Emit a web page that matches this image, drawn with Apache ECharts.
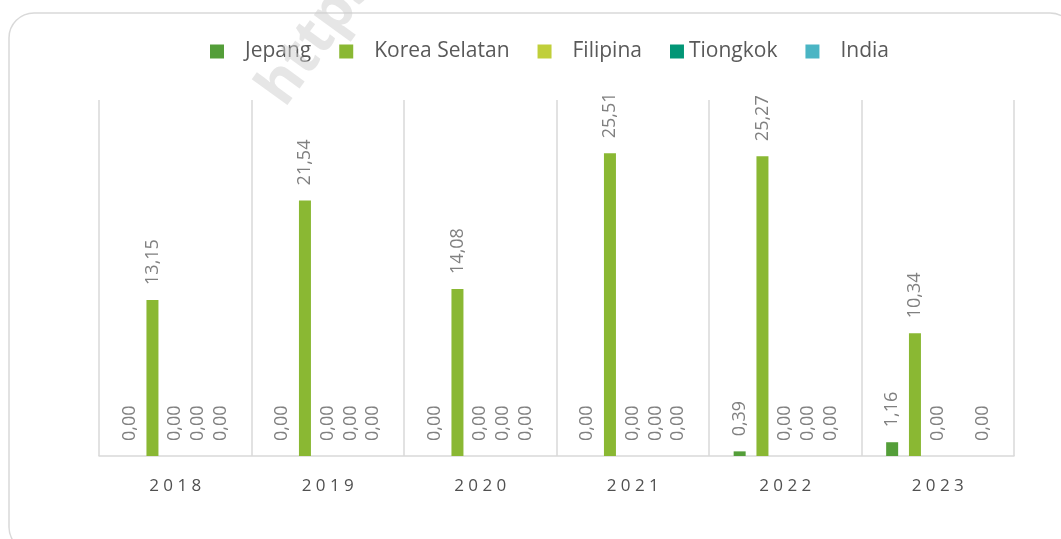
<!DOCTYPE html>
<html>
<head>
<meta charset="utf-8">
<script src="https://cdn.jsdelivr.net/npm/echarts@6/dist/echarts.min.js"></script>
<style>
  html, body { margin: 0; padding: 0; background: #fff; }
  #chart { width: 1061px; height: 539px; }
</style>
</head>
<body>
<div id="chart"></div>
<script>
// data
const years = ['2018', '2019', '2020', '2021', '2022', '2023'];
const jepang = [0, 0, 0, 0, 0.39, 1.16];
const koreaSelatan = [13.15, 21.54, 14.08, 25.51, 25.27, 10.34];
const filipina = [0, 0, 0, 0, 0, 0];
const tiongkok = [0, 0, 0, 0, 0, null];
const india = [0, 0, 0, 0, 0, 0];

const seriesNames = ['Jepang', 'Korea Selatan', 'Filipina', 'Tiongkok', 'India'];
const seriesData = [jepang, koreaSelatan, filipina, tiongkok, india];
const colors = ['#549E39', '#8AB833', '#C0CF3A', '#029676', '#4AB5C4'];

const font = '"Open Sans", "Noto Sans", sans-serif';

const chart = echarts.init(document.getElementById('chart'));

chart.setOption({
  animation: false,
  color: colors,
  graphic: [
    {
      type: 'rect',
      z: -10,
      shape: { x: 9, y: 13, width: 1066, height: 539, r: 25 },
      style: { fill: '#fff', stroke: '#d9d9d9', lineWidth: 1.5 },
    },
    {
      // faint watermark
      type: 'text',
      z: 100,
      x: 248,
      y: 82,
      rotation: Math.PI * 0.3,
      style: {
        text: 'https://',
        fill: 'rgba(205,205,205,0.5)',
        font: 'bold 58px ' + font,
      },
    },
  ],
  legend: {
    top: 36,
    left: 205,
    icon: 'rect',
    itemWidth: 14,
    itemHeight: 14,
    itemGap: 28,
    textStyle: { color: '#595959', fontSize: 21, fontFamily: font },
    data: seriesNames.map((name) => ({
      name,
      textStyle: { padding: [0, 0, 0, name === 'Tiongkok' ? 0 : 16] },
    })),
  },
  grid: {
    top: 100,
    left: 99,
    right: 47,
    bottom: 83,
  },
  xAxis: {
    type: 'category',
    data: years,
    boundaryGap: true,
    axisTick: { show: false },
    axisLine: { lineStyle: { color: '#d9d9d9', width: 1.5 } },
    splitLine: {
      show: true,
      interval: 0,
      lineStyle: { color: '#d9d9d9', width: 1.5 },
    },
    axisLabel: {
      margin: 22,
      color: '#505050',
      fontSize: 17,
      fontFamily: font,
      formatter: (v) => v.split('').join(' '),
    },
  },
  yAxis: {
    type: 'value',
    min: 0,
    max: 30,
    show: false,
    splitLine: { show: false },
  },
  series: seriesNames.map((name, i) => ({
    name,
    type: 'bar',
    data: seriesData[i],
    barWidth: 12,
    barGap: '90%',
    label: {
      show: true,
      position: 'top',
      rotate: 90,
      align: 'left',
      verticalAlign: 'middle',
      distance: 15,
      color: '#808080',
      fontSize: 18,
      fontFamily: font,
      formatter: (p) => p.value.toFixed(2).replace('.', ','),
    },
  })),
});
</script>
</body>
</html>
